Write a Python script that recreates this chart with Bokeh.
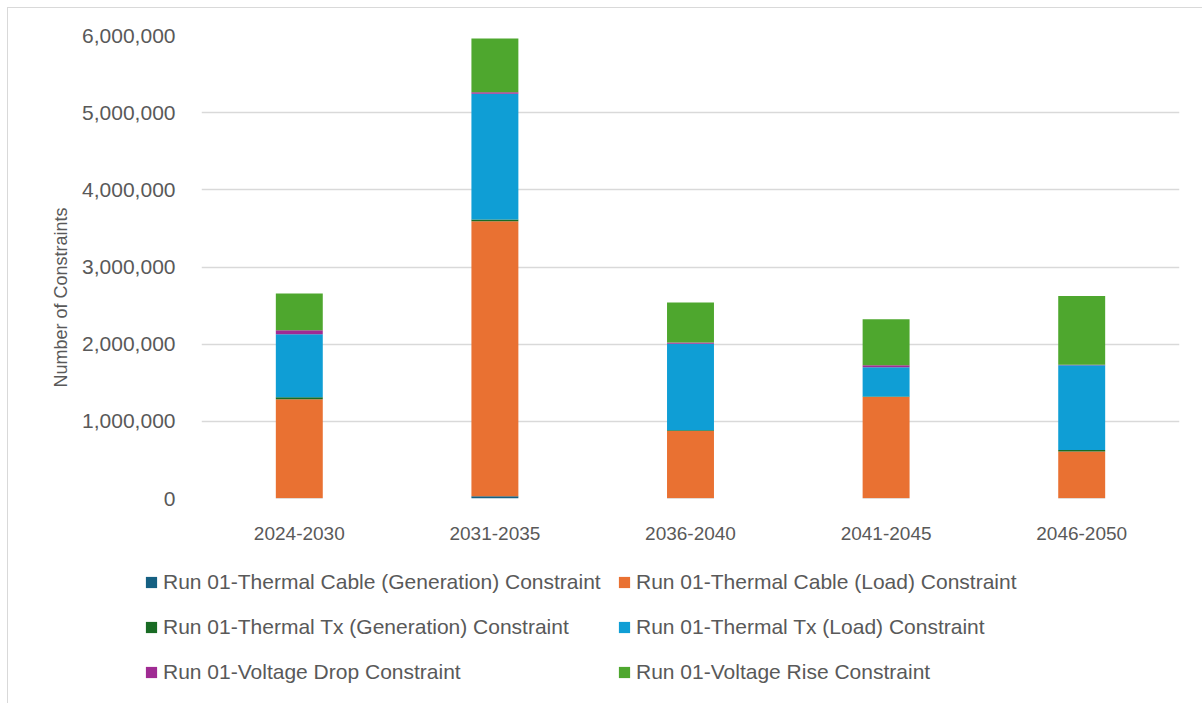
from bokeh.plotting import figure
from bokeh.models import Legend, LegendItem, NumeralTickFormatter, SingleIntervalTicker, Range1d, FactorRange, Title
from bokeh.embed import file_html
from bokeh.resources import INLINE

periods = ["2024-2030", "2031-2035", "2036-2040", "2041-2045", "2046-2050"]
cable_gen = [4000, 30000, 3000, 3000, 3000]
cable_load = [1283000, 3563000, 872000, 1313000, 605000]
tx_gen = [26000, 22000, 8000, 5000, 20000]
tx_load = [816000, 1629000, 1124000, 380000, 1099000]
v_drop = [52000, 21000, 13000, 25000, 5000]
v_rise = [476000, 696000, 519000, 597000, 893000]

series_names = [
    "Run 01-Thermal Cable (Generation) Constraint",
    "Run 01-Thermal Cable (Load) Constraint",
    "Run 01-Thermal Tx (Generation) Constraint",
    "Run 01-Thermal Tx (Load) Constraint",
    "Run 01-Voltage Drop Constraint",
    "Run 01-Voltage Rise Constraint",
]
colors = ["#156082", "#E97132", "#196B24", "#0F9ED5", "#A02B93", "#4EA72E"]
keys = ["cable_gen", "cable_load", "tx_gen", "tx_load", "v_drop", "v_rise"]

data = dict(period=periods, cable_gen=cable_gen, cable_load=cable_load, tx_gen=tx_gen,
            tx_load=tx_load, v_drop=v_drop, v_rise=v_rise)

TXT = "#595959"
FONT = "Liberation Sans"
BORDER = "1px solid #d9d9d9"

p = figure(x_range=FactorRange(*periods, range_padding=0), y_range=Range1d(0, 6000000),
           width=1195, height=547, output_backend="svg", toolbar_location=None,
           min_border_left=193, min_border_right=24, min_border_top=27, min_border_bottom=57,
           margin=(7, 0, 0, 7))
p.styles = {"border-left": BORDER, "border-top": BORDER}
p.outline_line_color = None

renderers = p.vbar_stack(keys, x="period", width=0.24, color=colors, source=data, line_color=None)

p.xgrid.grid_line_color = None
p.ygrid.grid_line_color = "#d9d9d9"
p.ygrid.grid_line_width = 1.5
p.yaxis.ticker = SingleIntervalTicker(interval=1000000)
p.yaxis.formatter = NumeralTickFormatter(format="0,0")
for ax in (p.xaxis[0], p.yaxis[0]):
    ax.axis_line_color = None
    ax.major_tick_line_color = None
    ax.minor_tick_line_color = None
    ax.major_label_text_color = TXT
    ax.major_label_text_font = FONT
p.xaxis.major_label_text_font_size = "19px"
p.yaxis.major_label_text_font_size = "21px"
p.xaxis.major_label_standoff = 22
p.yaxis.major_label_standoff = 20

ytitle = Title(text="Number of Constraints", align="left", offset=111, standoff=18,
               text_font=FONT, text_font_size="18px", text_font_style="normal", text_color=TXT)
p.add_layout(ytitle, "left")

# legend panel (separate root so its frame is not aligned with the chart's frame)
lp = figure(x_range=FactorRange(*periods), y_range=Range1d(-2, -1),
            width=1195, height=149, output_backend="svg", toolbar_location=None,
            min_border=0, min_border_left=0, min_border_right=0, min_border_top=0, min_border_bottom=0,
            x_axis_location=None, y_axis_location=None, margin=(0, 0, 0, 7))
lp.styles = {"border-left": BORDER}
lp.grid.grid_line_color = None
lp.outline_line_color = None
lrend = lp.vbar_stack(keys, x="period", width=0, color=colors, source=data, line_color=None)

def make_legend(idx, loc):
    items = [LegendItem(label=series_names[i], renderers=[lrend[i]]) for i in idx]
    lg = Legend(items=items, location=loc, orientation="vertical")
    lg.label_text_font = FONT
    lg.label_text_font_size = "21px"
    lg.label_text_color = TXT
    lg.glyph_width = 14
    lg.glyph_height = 14
    lg.label_height = 24
    lg.label_standoff = 5
    lg.spacing = 21
    lg.padding = 0
    lg.margin = 0
    lg.border_line_color = None
    lg.background_fill_alpha = 0
    return lg

lp.add_layout(make_legend([0, 2, 4], (136, 19)))
lp.add_layout(make_legend([1, 3, 5], (609, 19)))

open("out.html", "w").write(file_html([p, lp], INLINE))
